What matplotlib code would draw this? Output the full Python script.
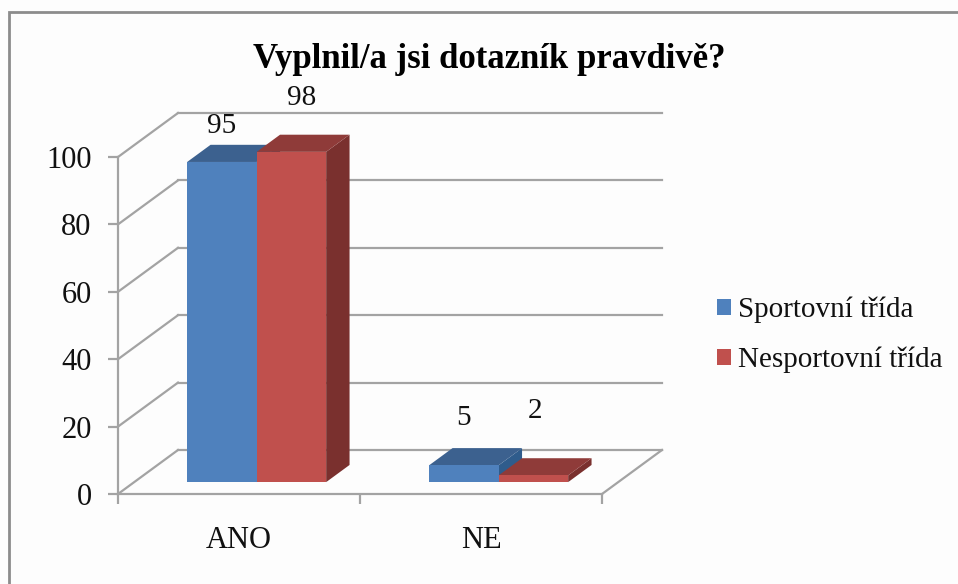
import matplotlib
matplotlib.use('Agg')
import matplotlib.pyplot as plt
from matplotlib.patches import Polygon, Rectangle

categories = ['ANO', 'NE']
series_names = ['Sportovní třída', 'Nesportovní třída']
sport = [95, 5]
nesport = [98, 2]
y_ticks = [0, 20, 40, 60, 80, 100]
title = 'Vyplnil/a jsi dotazník pravdivě?'

W, H = 958, 584
GRID = '#a3a3a3'
TEXT = '#111111'
SERIF = 'Liberation Serif'
BLUE = '#4f81bd'
RED = '#c0504d'

# depth of the fake 3d box, in data units
DX = 60 / 242
DY = 44 / 3.37
BAR_W = 69.5 / 242
BAR_FRONT = 0.27
BAR_BACK = 0.66

# labels were moved by hand in the original, offsets in pixels from the bar top
sport_label_off = [(0, 36), (0, 47)]
nesport_label_off = [(10, 54), (2, 64)]

fig = plt.figure(figsize=(W / 100, H / 100), dpi=100, facecolor='#fdfdfd')
ax = fig.add_axes([118 / W, 1 - 494 / H, 484 / W, 337 / H])
ax.set_xlim(0, len(categories))
ax.set_ylim(0, 100)
ax.patch.set_visible(False)
for name in ['top', 'right']:
    ax.spines[name].set_visible(False)
for name in ['left', 'bottom']:
    ax.spines[name].set_color(GRID)
    ax.spines[name].set_linewidth(1.6)


def depth_line(x, y, color=GRID):
    ax.plot([x, x + DX], [y, y + DY], color=color, lw=1.6, clip_on=False, zorder=1)


# back wall and side wall
for t in y_ticks:
    ax.plot([DX, len(categories) + DX], [t + DY, t + DY], color=GRID, lw=1.6,
            clip_on=False, zorder=1)
    depth_line(0, t)
depth_line(len(categories), 0)


def bar_3d(x, val, front, top, side, label_off):
    d0x, d0y = BAR_FRONT * DX, BAR_FRONT * DY
    d1x, d1y = BAR_BACK * DX, BAR_BACK * DY
    x0, x1 = x + d0x, x + BAR_W + d0x
    y0, y1 = d0y, val + d0y
    ddx, ddy = d1x - d0x, d1y - d0y
    ax.add_patch(Polygon([(x1, y0), (x1 + ddx, y0 + ddy), (x1 + ddx, y1 + ddy), (x1, y1)],
                         fc=side, ec='none', clip_on=False, zorder=3))
    ax.add_patch(Polygon([(x0, y1), (x1, y1), (x1 + ddx, y1 + ddy), (x0 + ddx, y1 + ddy)],
                         fc=top, ec='none', clip_on=False, zorder=3))
    ax.add_patch(Rectangle((x0, y0), BAR_W, val, fc=front, ec='none', clip_on=False, zorder=3))
    ax.annotate(str(val), (x0 + BAR_W / 2, y1), xytext=label_off, textcoords='offset pixels',
                ha='center', va='center', family=SERIF, fontsize=21, color=TEXT,
                annotation_clip=False, zorder=5)


for i in range(len(categories)):
    left = i + 0.5 - BAR_W + 0.006
    bar_3d(left, sport[i], BLUE, '#3c618f', '#2f5c8c', sport_label_off[i])
    bar_3d(left + BAR_W, nesport[i], RED, '#8f3b39', '#7a302e', nesport_label_off[i])

ax.set_yticks(y_ticks)
ax.set_xticks(range(len(categories) + 1))
ax.set_xticklabels([])
ax.set_xticks([i + 0.5 for i in range(len(categories))], minor=True)
ax.set_xticklabels(categories, minor=True, family=SERIF, fontsize=22, color=TEXT)
ax.tick_params(axis='x', which='minor', length=0, pad=23)
ax.tick_params(axis='x', which='major', length=7, width=1.6, color=GRID)
ax.tick_params(axis='y', length=7, width=1.6, color=GRID, pad=12, labelsize=22, labelcolor=TEXT)
for lab in ax.get_yticklabels():
    lab.set_family(SERIF)

fig.text(489 / W, 1 - 59 / H, title, ha='center', va='center', family=SERIF,
         fontsize=25, fontweight='bold', color='black')

# legend
handles = [Rectangle((0, 0), 1, 1, fc=c, ec='none') for c in [BLUE, RED]]
fig.legend(handles, series_names, loc='center left', bbox_to_anchor=(717 / W, 1 - 335 / H),
           frameon=False, prop={'family': SERIF, 'size': 21}, handlelength=0.48,
           handleheight=0.48, handletextpad=0.25, labelspacing=0.8, borderpad=0,
           borderaxespad=0, labelcolor=TEXT)

# outer picture frame
fig.add_artist(Rectangle((9 / W, -0.02), 1.1, 1 - 12 / H + 0.02, transform=fig.transFigure,
                         fc='none', ec='#8c8c8c', lw=2))

fig.savefig('out.png', dpi=100, facecolor=fig.get_facecolor())
